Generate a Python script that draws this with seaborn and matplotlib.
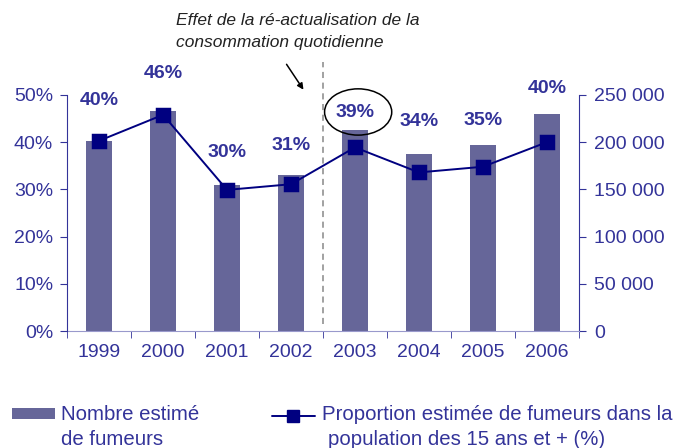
import numpy as np
import pandas as pd
import matplotlib
matplotlib.use('Agg')
import matplotlib.pyplot as plt
import seaborn as sns
from matplotlib.patches import Ellipse, Rectangle, FancyArrowPatch
from matplotlib.lines import Line2D
from matplotlib.ticker import FuncFormatter

YEARS   = ['1999', '2000', '2001', '2002', '2003', '2004', '2005', '2006']
SMOKERS = [201000, 233000, 154500, 165000, 213000, 187500, 197000, 230000]
PCT     = [40.3, 45.8, 29.9, 31.1, 38.9, 33.6, 34.8, 40.0]
# label heights, in % units of the left axis
LABEL_Y = [48.9, 54.6, 37.9, 39.3, 46.2, 44.3, 44.7, 51.3]

BAR   = '#666699'
NAVY  = '#000080'
TXT   = '#333399'

df = pd.DataFrame({'year': YEARS, 'smokers': SMOKERS, 'pct': PCT})

sns.set_style('white')
plt.rcParams['font.family'] = ['Liberation Sans', 'DejaVu Sans']

W, H = 685, 448
fig = plt.figure(figsize=(W / 100, H / 100), dpi=100)
ax = fig.add_axes([0.098, 0.261, 0.747, 0.527])
ax2 = ax.twinx()

# bars -> right axis (counts)
sns.barplot(data=df, x='year', y='smokers', ax=ax, color=BAR, width=0.4,
            saturation=1, edgecolor='none')
ax.set_ylim(0, 250000)
ax.set_yticks(np.arange(0, 250001, 50000))
ax.yaxis.set_major_formatter(FuncFormatter(lambda v, p: f'{int(v):,}'.replace(',', ' ')))

# line -> left axis (%)
sns.pointplot(data=df, x='year', y='pct', ax=ax2, color=NAVY, markers='s',
              markersize=10.5, linewidth=1.4, errorbar=None)
ax2.set_ylim(0, 50)
ax2.set_yticks(np.arange(0, 51, 10))
ax2.yaxis.set_major_formatter(FuncFormatter(lambda v, p: f'{int(v)}%'))

ax.yaxis.tick_right()
ax2.yaxis.tick_left()

for a in (ax, ax2):
    a.set_xlim(-0.5, 7.5)
    a.set_xlabel('')
    a.set_ylabel('')
    for s in a.spines.values():
        s.set_visible(False)

ax2.spines['left'].set_visible(True)
ax2.spines['left'].set_color(TXT)
ax.spines['right'].set_visible(True)
ax.spines['right'].set_color(TXT)
ax.spines['bottom'].set_visible(True)
ax.spines['bottom'].set_color('#9999cc')

ax.set_xticks(range(len(YEARS)))
ax.set_xticklabels(YEARS)
ax.set_xticks(np.arange(-0.5, 8, 1), minor=True)
ax.tick_params(axis='x', which='major', length=0, pad=9, labelsize=14, labelcolor=TXT)
ax.tick_params(axis='x', which='minor', length=5, direction='out', color=TXT, bottom=True)
ax.tick_params(axis='y', right=True, left=False, labelright=True, labelleft=False,
               length=5, direction='out', color=TXT, labelsize=14, labelcolor=TXT, pad=6)
ax2.tick_params(axis='y', left=True, right=False, labelleft=True, labelright=False,
                length=5, direction='out', color=TXT, labelsize=14, labelcolor=TXT, pad=5)
ax2.tick_params(axis='x', bottom=False, labelbottom=False)

# value labels
for i, (p, ly) in enumerate(zip(PCT, LABEL_Y)):
    ax2.text(i, ly, f'{round(p)}%', ha='center', va='center', fontsize=14,
             fontweight='bold', color=TXT, clip_on=False)

# dashed separator and annotation
ax2.plot([3.5, 3.5], [1.5, 57.0], ls=(0, (4, 3)), color='#888888', lw=1.1, clip_on=False)
ax2.add_patch(Ellipse((4.05, 46.4), 1.05, 9.8, fill=False, ec='black', lw=1.1, clip_on=False))
fig.text(176 / W, 1 - 31.5 / H, 'Effet de la ré-actualisation de la\nconsommation quotidienne',
         ha='left', va='center', fontsize=12.5, style='italic', color='#222222',
         linespacing=1.55)
fig.add_artist(FancyArrowPatch(
    (285 / W, 1 - 62 / H), (305 / W, 1 - 92 / H), transform=fig.transFigure,
    arrowstyle='-|>', mutation_scale=9, color='black', lw=1.1))

# legend, drawn by hand to keep the original's layout
fig.add_artist(Rectangle((12 / W, 1 - 419 / H), 43 / W, 11 / H, transform=fig.transFigure,
                         facecolor=BAR, edgecolor='none'))
fig.add_artist(Line2D([272 / W, 315 / W], [1 - 416 / H, 1 - 416 / H], transform=fig.transFigure,
                      color=NAVY, lw=1.4))
fig.add_artist(Line2D([293 / W], [1 - 416 / H], transform=fig.transFigure, color=NAVY,
                      marker='s', markersize=8.6, lw=0))
leg_kw = dict(ha='left', va='baseline', fontsize=14.7, color=TXT)
fig.text(61 / W, 1 - 420 / H, 'Nombre estimé', **leg_kw)
fig.text(61 / W, 1 - 445 / H, 'de fumeurs', **leg_kw)
fig.text(322 / W, 1 - 420 / H, 'Proportion estimée de fumeurs dans la', **leg_kw)
fig.text(328 / W, 1 - 445 / H, 'population des 15 ans et + (%)', **leg_kw)

fig.savefig('out.png', dpi=100, facecolor='white')
